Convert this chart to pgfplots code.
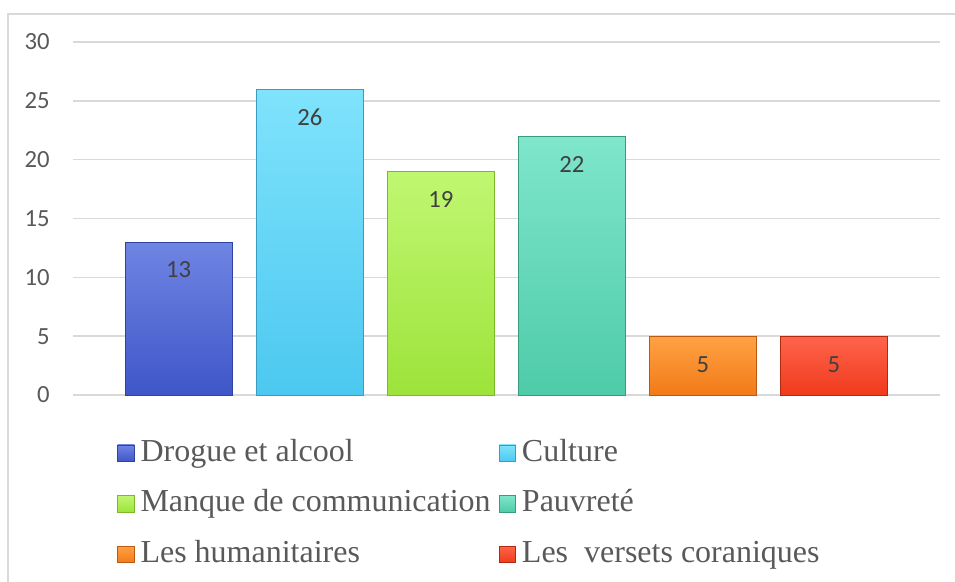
\documentclass[border=0pt]{standalone}
\usepackage{pgfplots}
\pgfplotsset{compat=1.18}
\usepackage{fontspec}
\setmainfont{Liberation Serif}
\newfontfamily\calibri{Carlito}
\definecolor{frame}{HTML}{D9D9D9}
\definecolor{gridc}{HTML}{D9D9D9}
\definecolor{tickc}{HTML}{595959}
\definecolor{lblc}{HTML}{404040}
\definecolor{legc}{HTML}{595959}
\definecolor{c1t}{HTML}{6F85E3}\definecolor{c1b}{HTML}{3F56C8}\definecolor{c1d}{HTML}{2E42A0}
\definecolor{c2t}{HTML}{7FE3FC}\definecolor{c2b}{HTML}{4CC8F0}\definecolor{c2d}{HTML}{3A9CC0}
\definecolor{c3t}{HTML}{C0F772}\definecolor{c3b}{HTML}{9DE33A}\definecolor{c3d}{HTML}{7CB82A}
\definecolor{c4t}{HTML}{7FE6CB}\definecolor{c4b}{HTML}{4ECBA8}\definecolor{c4d}{HTML}{3A9A80}
\definecolor{c5t}{HTML}{FFA244}\definecolor{c5b}{HTML}{F27A18}\definecolor{c5d}{HTML}{B85A10}
\definecolor{c6t}{HTML}{FF644C}\definecolor{c6b}{HTML}{F03A1C}\definecolor{c6d}{HTML}{B02A10}
\begin{document}
\begin{tikzpicture}
\path[use as bounding box] (0pt,0pt) rectangle (716.25pt,-435.75pt);
\draw[color=frame, line width=1pt] (6pt,-445pt) -- (6pt,-10.5pt) -- (725pt,-10.5pt);
\begin{axis}[
  at={(54.75pt,-296.25pt)}, anchor=south west,
  scale only axis, width=650.25pt, height=264.75pt,
  xmin=-0.8065, xmax=5.809, ymin=0, ymax=30,
  ytick={0,5,10,15,20,25,30}, xtick=\empty,
  axis line style={draw=none}, major tick length=0pt,
  ymajorgrids, grid style={color=gridc, line width=1.1pt},
  /pgf/number format/assume math mode=true,
  yticklabel style={font=\calibri\fontsize{18.5}{21}\selectfont, text=tickc, anchor=east, inner sep=0pt, xshift=-17.25pt},
  ybar, bar width=0.8126,
  nodes near coords,
  every node near coord/.append style={font=\calibri\fontsize{18.5}{21}\selectfont, text=lblc, anchor=center, yshift=-21pt},
  legend columns=2,
  legend cell align=left,
  legend style={at={(0.0511,-0.1235)}, anchor=north west, draw=none, fill=none,
    inner sep=0pt, outer sep=0pt, row sep=15.9pt, column sep=0pt,
    font=\fontsize{24}{29}\selectfont, text=legc,
    nodes={inner sep=0pt, text height=16.8pt, text depth=5.2pt}},
  legend image code/.code={\draw[#1, line width=0.6pt] (0pt,-6.25pt) rectangle (12.5pt,6.25pt); \path (16.9pt,0pt);},
  clip=false,
]
\addplot[bar shift=0pt, top color=c1t, bottom color=c1b, draw=c1d] coordinates {(0,13)};
\addlegendentry{\makebox[268.7pt][l]{Drogue et alcool}}
\addplot[bar shift=0pt, top color=c2t, bottom color=c2b, draw=c2d] coordinates {(1,26)};
\addlegendentry{Culture}
\addplot[bar shift=0pt, top color=c3t, bottom color=c3b, draw=c3d] coordinates {(2,19)};
\addlegendentry{\makebox[268.7pt][l]{Manque de communication}}
\addplot[bar shift=0pt, top color=c4t, bottom color=c4b, draw=c4d] coordinates {(3,22)};
\addlegendentry{Pauvreté}
\addplot[bar shift=0pt, top color=c5t, bottom color=c5b, draw=c5d] coordinates {(4,5)};
\addlegendentry{\makebox[268.7pt][l]{Les humanitaires}}
\addplot[bar shift=0pt, top color=c6t, bottom color=c6b, draw=c6d] coordinates {(5,5)};
\addlegendentry{Les\ \ versets coraniques}
\end{axis}
\end{tikzpicture}
\end{document}
